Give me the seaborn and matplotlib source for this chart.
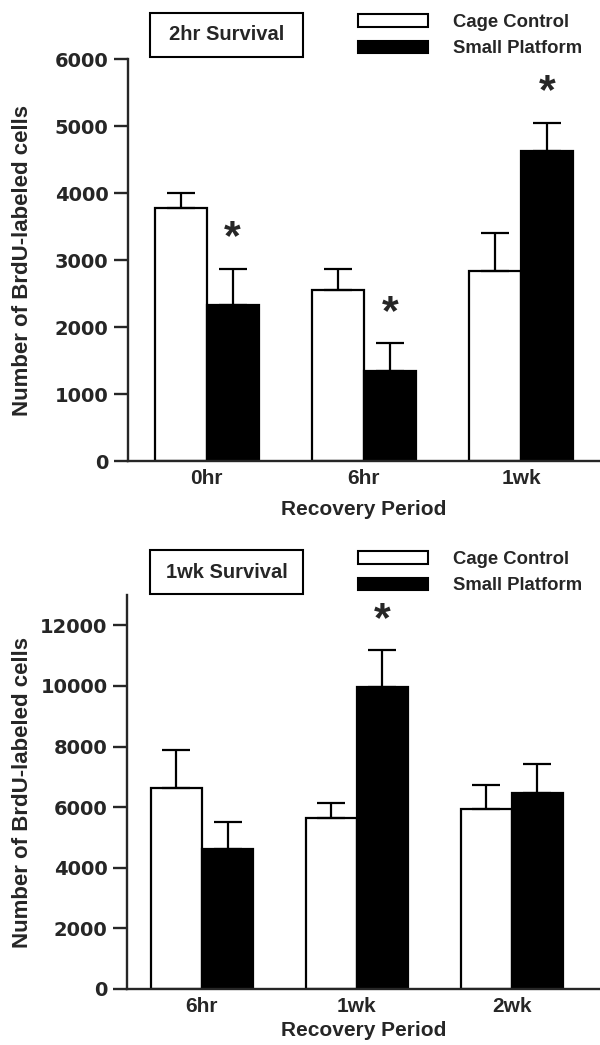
import pandas as pd
import matplotlib
matplotlib.use('Agg')
import matplotlib.pyplot as plt
from matplotlib.patches import Patch, Rectangle
import seaborn as sns

# Datos panel superior (2hr Survival)
periodos_2hr = ['0hr', '6hr', '1wk']
control_2hr = [3780, 2550, 2830]
control_2hr_se = [215, 310, 575]
platform_2hr = [2330, 1340, 4620]
platform_2hr_se = [540, 415, 430]
sig_2hr = [True, True, True]
yticks_2hr = [0, 1000, 2000, 3000, 4000, 5000, 6000]

# Datos panel inferior (1wk Survival)
periodos_1wk = ['6hr', '1wk', '2wk']
control_1wk = [6640, 5650, 5940]
control_1wk_se = [1240, 490, 790]
platform_1wk = [4630, 9960, 6480]
platform_1wk_se = [880, 1220, 930]
sig_1wk = [False, True, False]
yticks_1wk = [0, 2000, 4000, 6000, 8000, 10000, 12000]

grupos = ['Cage Control', 'Small Platform']

sns.set_style('ticks')
plt.rcParams['font.family'] = ['Liberation Sans', 'DejaVu Sans']
plt.rcParams['font.weight'] = 'bold'
plt.rcParams['axes.labelweight'] = 'bold'

W, H = 600, 1045
fig = plt.figure(figsize=(W / 100, H / 100), dpi=100)


def panel(left, zero_px, height_px, periodos, ctrl, ctrl_se, plat, plat_se, sig, ymax, yticks, xlim,
          xlabel_px):
    ax = fig.add_axes([left / W, 1 - zero_px / H, (W - left) / W, height_px / H])
    df = pd.DataFrame({
        'periodo': periodos * 2,
        'grupo': [grupos[0]] * 3 + [grupos[1]] * 3,
        'valor': ctrl + plat,
    })
    sns.barplot(data=df, x='periodo', y='valor', hue='grupo', order=periodos, hue_order=grupos,
                palette=['white', 'black'], edgecolor='black', linewidth=1.6, width=0.66,
                errorbar=None, legend=False, ax=ax)
    # barras de error (solo hacia arriba)
    se = ctrl_se + plat_se
    vals = ctrl + plat
    bars = ax.patches[:6]
    for b, v, e in zip(bars, vals, se):
        xc = b.get_x() + b.get_width() / 2
        ax.errorbar(xc, v, yerr=[[0], [e]], fmt='none', ecolor='black', elinewidth=1.6,
                    capsize=10, capthick=1.6, zorder=1)
    # asteriscos
    for b, v, e, s in zip(bars[3:], plat, plat_se, sig):
        if s:
            xc = b.get_x() + b.get_width() / 2
            ax.annotate('*', (xc, v + e), xytext=(0, 22), textcoords='offset points',
                        ha='center', va='center', fontsize=31, fontweight='bold')
    ax.set_ylim(0, ymax)
    ax.set_xlim(*xlim)
    ax.set_yticks(yticks)
    ax.set_yticklabels([str(t) for t in yticks], fontfamily='DejaVu Sans', fontsize=14,
                       fontweight='bold')
    ax.set_xticks(range(len(periodos)))
    ax.set_xticklabels(periodos, fontsize=15, fontweight='bold')
    ax.tick_params(axis='y', length=10, width=1.7, pad=4)
    ax.tick_params(axis='x', length=0, pad=6)
    ax.set_xlabel('Recovery Period', fontsize=15, fontweight='bold')
    ax.set_ylabel('Number of BrdU-labeled cells', fontsize=16, fontweight='bold')
    ax.yaxis.set_label_coords((33 - left) / (W - left), 0.5)
    ax.xaxis.set_label_coords(0.5, -xlabel_px / height_px)
    for side in ['top', 'right']:
        ax.spines[side].set_visible(False)
    ax.spines['left'].set_linewidth(1.7)
    ax.spines['bottom'].set_linewidth(1.7)
    return ax


ax1 = panel(128, 461, 402, periodos_2hr, control_2hr, control_2hr_se,
            platform_2hr, platform_2hr_se, sig_2hr, 6000, yticks_2hr, (-0.50, 2.50), 39)
ax2 = panel(127, 989, 394, periodos_1wk, control_1wk, control_1wk_se,
            platform_1wk, platform_1wk_se, sig_1wk, 13000, yticks_1wk, (-0.484, 2.57), 32)

# cuadros de titulo
for ytop, titulo in [(13, '2hr Survival'), (550, '1wk Survival')]:
    x0, x1, h = 150, 303, 44
    fig.patches.append(Rectangle((x0 / W, 1 - (ytop + h) / H), (x1 - x0) / W, h / H,
                                 transform=fig.transFigure, fill=False, edgecolor='black', linewidth=1.5))
    fig.text((x0 + x1) / 2 / W, 1 - (ytop + h / 2) / H, titulo, ha='center', va='center',
             fontsize=14.5, fontweight='bold')

# leyendas
handles = [Patch(facecolor='white', edgecolor='black', linewidth=1.5),
           Patch(facecolor='black', edgecolor='black', linewidth=1.5)]
for yleg in [14, 551]:
    fig.legend(handles, grupos, loc='upper left', bbox_to_anchor=(358 / W, 1 - yleg / H),
               frameon=False, borderpad=0, borderaxespad=0, handlelength=3.8, handleheight=0.65,
               labelspacing=0.5, handletextpad=1.35, prop={'size': 13.3, 'weight': 'bold'})

plt.savefig('out.png', dpi=100)
